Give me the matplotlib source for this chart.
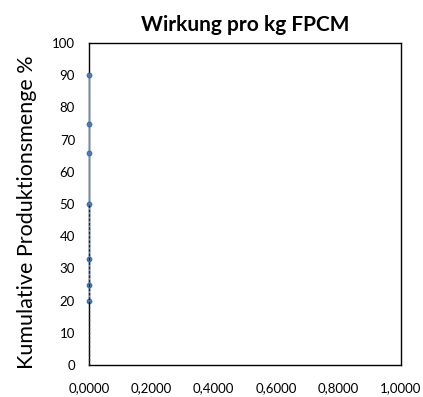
import matplotlib
matplotlib.use("Agg")
from matplotlib import pyplot as plt
from matplotlib.ticker import FuncFormatter

# data
effect = [0.0, 0.0, 0.0, 0.0, 0.0, 0.0, 0.0]
cum_share = [20, 25, 33, 50, 66, 75, 90]
base_x = [0.0, 0.0]
base_y = [0, 50]

plt.rcParams['font.family'] = ['Lato', 'DejaVu Sans']

fig = plt.figure(figsize=(4.23, 3.97), dpi=100)
ax = fig.add_axes([0.2104, 0.0806, 0.7376, 0.811])

ax.plot(effect, cum_share, color='#5b8fd0', linewidth=1.0, marker='o', markersize=3.5,
        markerfacecolor='#4a7ebb', markeredgecolor='#2f5f9a', markeredgewidth=0.6,
        zorder=3, clip_on=False)
ax.plot(base_x, base_y, color='#222222', linestyle=(0, (2, 1.5)), linewidth=0.9,
        zorder=4, clip_on=False)

ax.set_xlim(0, 1)
ax.set_ylim(0, 100)
ax.set_xticks([0, 0.2, 0.4, 0.6, 0.8, 1.0])
ax.set_yticks(range(0, 101, 10))
ax.xaxis.set_major_formatter(FuncFormatter(lambda v, p: f"{v:.4f}".replace('.', ',')))
ax.tick_params(length=0, labelsize=9.5, pad=12)
ax.tick_params(axis='y', pad=10)
for s in ax.spines.values():
    s.set_color('black')
    s.set_linewidth(1.0)

ax.set_title("Wirkung pro kg FPCM", fontsize=15, fontweight='bold', pad=9)
ax.set_ylabel("Kumulative Produktionsmenge %", fontsize=15.5)
ax.yaxis.set_label_coords(-0.167, 0.475)

fig.savefig("out.png", dpi=100)
